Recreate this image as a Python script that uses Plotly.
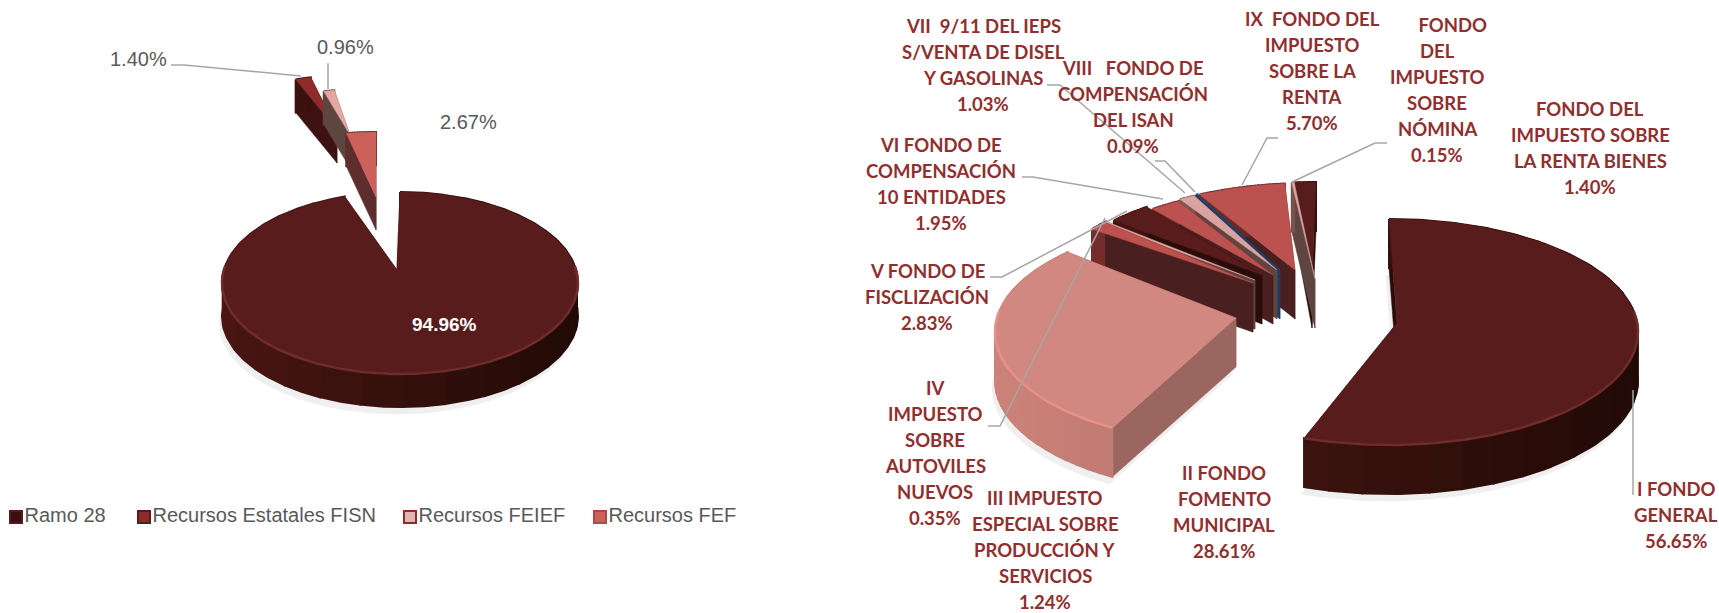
import numpy as np
import plotly.graph_objects as go

W, H = 1719, 613

# ---- data -----
left_names = ["Ramo 28", "Recursos Estatales FISN", "Recursos FEIEF", "Recursos FEF"]
left_values = [94.96, 1.40, 0.96, 2.67]

right_names = [
    "I FONDO<br>GENERAL",
    "II FONDO<br>FOMENTO<br>MUNICIPAL",
    "III IMPUESTO<br>ESPECIAL SOBRE<br>PRODUCCIÓN Y<br>SERVICIOS",
    "IV<br>IMPUESTO<br>SOBRE<br>AUTOVILES<br>NUEVOS",
    "V FONDO DE<br>FISCLIZACIÓN",
    "VI FONDO DE<br>COMPENSACIÓN<br>10 ENTIDADES",
    "VII  9/11 DEL IEPS<br>S/VENTA DE DISEL<br>Y GASOLINAS",
    "VIII   FONDO DE<br>COMPENSACIÓN<br>DEL ISAN",
    "IX  FONDO DEL<br>IMPUESTO<br>SOBRE LA<br>RENTA",
    "\u00a0\u00a0\u00a0\u00a0\u00a0\u00a0\u00a0FONDO<br>DEL<br>IMPUESTO<br>SOBRE<br>NÓMINA",
    "FONDO DEL<br>IMPUESTO SOBRE<br>LA RENTA BIENES",
]
right_values = [56.65, 28.61, 1.24, 0.35, 2.83, 1.95, 1.03, 0.09, 5.70, 0.15, 1.40]

# ---- styles and layout -----
DARK = dict(top="#591C1C", wall="#2A0D08", s0="#4A1612", s1="#210A06", rim="#6E2C2A")
SALMON = dict(top="#BC524F", wall="#4A1F1F", s0="#7A302E", s1="#4A1F1F", rim="#BC524F")
PINK = dict(top="#DBA3A0", wall="#5E4540", s0="#8A5F5A", s1="#5E4540", rim="#DBA3A0")
BLUE = dict(top="#1F497D", wall="#1F3B63", s0="#1F3B63", s1="#1F3B63", rim="#1F497D")
ROSE = dict(top="#D08880", wall="#9C6660", s0="#CC8279", s1="#9C6660", rim="#E8908A")
LDARK = dict(DARK, wall="#3E1212", top="#8E2B2B", rim="#8E2B2B")
LSALM = dict(top="#CC615B", wall="#5E2E2C", s0="#5E2E2C", s1="#5E2E2C", rim="#CC615B")
LPINK = dict(top="#E2A8A4", wall="#5E4540", s0="#5E4540", s1="#5E4540", rim="#E2A8A4")

left_pie = dict(cx=400, cy=283, rx=178, ry=91, depth=33)
left_styles = [DARK, LDARK, LPINK, LSALM]
left_offset = [(0, 0), (-49, -117), (-36, -103), (-24, -60)]
left_apex = [(-3, -13), (-14, -36), (-14, -45), (0, -26)]
left_order = [1, 2, 3, 0]

right_pie = dict(cx=1389, cy=332, rx=249, ry=113, depth=49)
right_styles = [DARK, ROSE, SALMON, PINK, DARK, SALMON, PINK, BLUE, SALMON, PINK, DARK]
right_offset = [(0, 0), (-145, 0), (-98, -35), (-100, -34), (-92, -35), (-86, -33),
                (-84, -35), (-82, -36), (-80, -36), (-73, -37), (-73, -37)]
right_apex = [(8, -9), (-8, -14), (-38, -14), (-34, -18), (-35, -22), (-30, -24),
              (-28, -27), (-27, -26), (-14, -26), (-1, -16), (-4, -16)]
right_order = [10, 9, 8, 7, 6, 5, 4, 3, 2, 1, 0]
# perspective correction of each arc's start and end, in degrees
right_arc_shift = {0: (0, -4), 1: (8, 8)}

fig = go.Figure()


def poly(xs, ys, color, lw=0.5):
    fig.add_trace(go.Scatter(
        x=list(xs) + [xs[0]], y=list(ys) + [ys[0]], mode="lines", fill="toself",
        fillcolor=color, line=dict(color=color, width=lw),
        hoverinfo="skip", showlegend=False))


def mix(c0, c1, t):
    a = [int(c0[i:i + 2], 16) for i in (1, 3, 5)]
    b = [int(c1[i:i + 2], 16) for i in (1, 3, 5)]
    return "#" + "".join(f"{round(p + (q - p) * t):02X}" for p, q in zip(a, b))


def draw_pie(values, pie, styles, offsets, apexes, order, shadow=(), arc_shift=None):
    total = sum(values)
    edges = np.concatenate([[0], np.cumsum(values)]) / total * 2 * np.pi
    d = pie["depth"]
    for i in order:
        s0, s1 = (arc_shift or {}).get(i, (0, 0))
        a0, a1 = edges[i] + np.radians(s0), edges[i + 1] + np.radians(s1)
        st = styles[i]
        dx, dy = offsets[i]
        ax, ay = apexes[i]
        n = max(2, int((a1 - a0) / 0.015))
        t = np.linspace(a0, a1, n + 1)
        x = pie["cx"] + dx + pie["rx"] * np.sin(t)
        y = pie["cy"] + dy - pie["ry"] * np.cos(t)
        px, py = pie["cx"] + dx + ax, pie["cy"] + dy + ay
        if i in shadow:
            poly(np.r_[px, x] - 3, np.r_[py, y] + d + 7, "#EFEFEF")
        # cut walls
        poly([px, x[-1], x[-1], px], [py, y[-1], y[-1] + d, py + d], st["wall"])
        poly([px, x[0], x[0], px], [py, y[0], y[0] + d, py + d], st["wall"])
        # outer wall, shaded from left to right in a few solid bands
        xmin, xmax = pie["cx"] + dx - pie["rx"], pie["cx"] + dx + pie["rx"]
        step = max(1, n // 24)
        for k in range(0, n, step):
            e = min(k + step, n)
            xb, yb = x[k:e + 1], y[k:e + 1]
            f = (xb.mean() - xmin) / (xmax - xmin)
            poly(np.r_[xb, xb[::-1]], np.r_[yb, yb[::-1] + d], mix(st["s0"], st["s1"], f), lw=2)
        # top face and rim highlight
        poly(np.r_[px, x], np.r_[py, y], st["top"])
        front = np.cos(t) < 0.2
        if front.sum() > 2:
            fig.add_trace(go.Scatter(x=x[front], y=y[front], mode="lines",
                                     line=dict(color=st["rim"], width=2.5), hoverinfo="skip",
                                     showlegend=False))


draw_pie(left_values, left_pie, left_styles, left_offset, left_apex, left_order, shadow=(0,))
draw_pie(right_values, right_pie, right_styles, right_offset, right_apex, right_order,
         shadow=(0, 1), arc_shift=right_arc_shift)

# legend built from the series names
NARROW = "Liberation Sans"
legend_x = [16, 144, 410, 600]
legend_fill = ["#3A0F0F", "#8E2B2B", "#E2B5B2", "#CC615B"]
legend_edge = ["#591C1C", "#591C1C", "#8E2B2B", "#A84A46"]
fig.add_trace(go.Scatter(
    x=legend_x, y=[517] * 4, mode="markers+text", text=left_names, textposition="middle right",
    textfont=dict(family=NARROW, size=20, color="#595959"),
    marker=dict(symbol="square", size=12, color=legend_fill, line=dict(color=legend_edge, width=2)),
    hoverinfo="skip", showlegend=False))

RED = "#902F2F"
LAB = "Lato, Open Sans"
ann = []


def label(x, y, text, color=RED, size=18.5, family=LAB, bold=True):
    """One annotation per line, so the line spacing can follow the reference."""
    lines = text.split("<br>")
    for k, line in enumerate(lines):
        ann.append(dict(x=x, y=y + (k - (len(lines) - 1) / 2) * 26, xref="x", yref="y",
                        text=f"<b>{line}</b>" if bold else line,
                        showarrow=False, xanchor="center", yanchor="middle", align="center",
                        font=dict(family=family, size=size, color=color)))


right_label_pos = [(1676, 515), (1224, 512), (1045, 550), (935, 453), (927, 297), (941, 184),
                   (983, 65), (1133, 107), (1312, 71), (1437, 90), (1590, 148)]
for name, val, (lx, ly) in zip(right_names, right_values, right_label_pos):
    label(lx, ly, f"{name}<br>{val:.2f}%")

left_label_pos = [(444, 324), (138, 59), (345, 47), (468, 122)]
for i, (val, (lx, ly)) in enumerate(zip(left_values, left_label_pos)):
    if i == 0:
        label(lx, ly, f"{val:.2f}%", color="#FFFFFF", size=19, family=NARROW)
    else:
        label(lx, ly, f"{val:.2f}%", color="#595959", size=20, family=NARROW, bold=False)

leaders = [
    [(171, 65), (184, 65), (301, 76)],
    [(328, 63), (328, 89)],
    [(1047, 85), (1060, 85), (1185, 193)],
    [(1155, 161), (1165, 161), (1195, 192)],
    [(1022, 177), (1033, 177), (1163, 199)],
    [(990, 277), (1002, 277), (1127, 211)],
    [(988, 426), (1000, 426), (1105, 218)],
    [(1278, 138), (1267, 138), (1242, 185)],
    [(1387, 143), (1375, 143), (1292, 182)],
    [(1633, 390), (1633, 495)],
]
shapes = [dict(type="path", xref="x", yref="y", layer="above",
               path="M" + " L".join(f"{a},{b}" for a, b in pts),
               line=dict(color="#A6A6A6", width=1.5)) for pts in leaders]

fig.update_layout(
    width=W, height=H, autosize=False, margin=dict(l=0, r=0, t=0, b=0),
    paper_bgcolor="white", plot_bgcolor="white", showlegend=False,
    xaxis=dict(range=[0, W], visible=False, fixedrange=True),
    yaxis=dict(range=[H, 0], visible=False, fixedrange=True),
    annotations=ann, shapes=shapes,
)
fig.write_html("out.html", config=dict(displayModeBar=False),
               post_script="document.body.style.margin='0';document.body.style.overflow='hidden';")
